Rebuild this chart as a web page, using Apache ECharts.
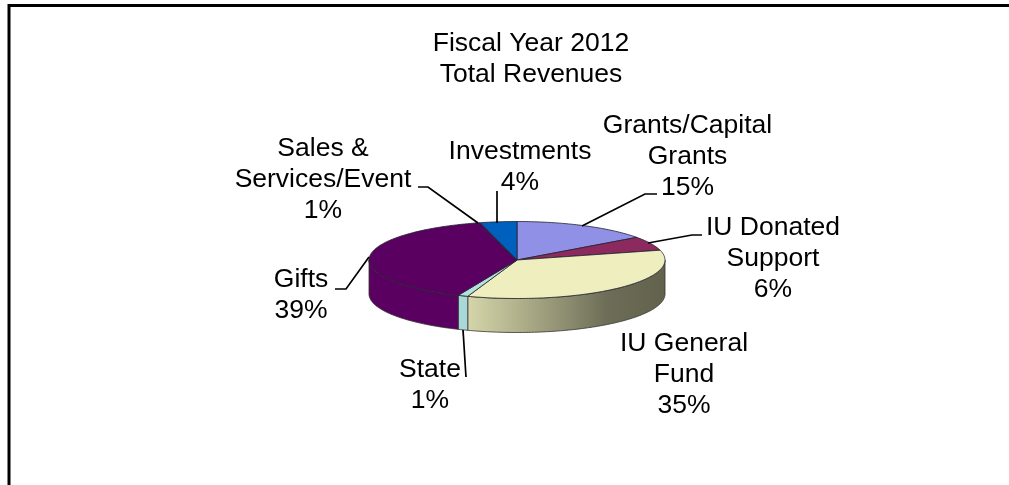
<!DOCTYPE html>
<html><head><meta charset="utf-8">
<style>html,body{margin:0;padding:0;background:#fff}#c{width:1009px;height:485px}</style>
<script src="https://cdn.jsdelivr.net/npm/echarts@6/dist/echarts.min.js"></script>
</head><body><div id="c"></div>
<script>
var categories = ['Grants/Capital Grants','IU Donated Support','IU General Fund','State','Gifts','Sales & Services/Event','Investments'];
var revenueShare = [15, 5.9, 34.5, 1.1, 39, 0.5, 4];
var percentLabels = ['15%','6%','35%','1%','39%','1%','4%'];
var labelLines = [['Grants/Capital','Grants'],['IU Donated','Support'],['IU General','Fund'],['State'],['Gifts'],['Sales &','Services/Event'],['Investments']];
var titleLines = ['Fiscal Year 2012','Total Revenues'];

var topColors = ['#9090E6','#8C2A60','#EEEEBE','#B4E0DE','#5A0060','#5A0060','#0060BE'];
var sideColors = ['#7070B0','#6A2850',null,'#A8D8D8','#5A0060','#5A0060','#004C98'];
var labelCenters = [[687.5,126],[773,228],[684,344],[430,369.5],[301,280],[323,149],[520,152]];
var leaders = [
  [[582,226],[645,194],[657,194]],
  [[648,243],[692,235],[702,235]],
  null,
  [[463,330],[466,377]],
  [[369,257],[346,289],[335,289]],
  [[478,223],[428,187],[418,187]],
  [[497,223],[497,191]]
];
var PIE = {cx:517, cy:260, rx:148, ry:38.5, depth:34};
var FONT = 'Liberation Sans';
var FS = 26.5, LH = 31;

var total = revenueShare.reduce(function(a,b){return a+b;},0);
var cum = 0;
var slices = revenueShare.map(function(v){
  var s = cum/total*Math.PI*2; cum += v; var e = cum/total*Math.PI*2;
  return {start:s,end:e};
});
function pt(a,dy){return [PIE.cx+PIE.rx*Math.sin(a), PIE.cy-PIE.ry*Math.cos(a)+(dy||0)];}
function arc(s,e,dy){var n=Math.max(2,Math.ceil((e-s)/0.02)),r=[];for(var i=0;i<=n;i++){r.push(pt(s+(e-s)*i/n,dy));}return r;}

function renderSide(params){
  var i = params.dataIndex, sl = slices[i];
  var s = Math.max(sl.start, Math.PI/2), e = Math.min(sl.end, Math.PI*1.5);
  if (e <= s) return {type:'group',children:[]};
  var up = arc(s,e,0), lo = arc(s,e,PIE.depth).reverse();
  var fill = sideColors[i];
  if (!fill) fill = new echarts.graphic.LinearGradient(1,0,0,0,[
    {offset:0,color:'#62624C'},{offset:0.3,color:'#6E6E58'},{offset:0.6,color:'#9C9C7C'},{offset:1,color:'#D6D6AA'}]);
  return {type:'polygon',shape:{points:up.concat(lo)},style:{fill:fill,stroke:'#333',lineWidth:0.8}};
}
function renderTop(params){
  var i = params.dataIndex, sl = slices[i];
  var pts = [[PIE.cx,PIE.cy]].concat(arc(sl.start,sl.end,0));
  return {type:'polygon',shape:{points:pts},style:{fill:topColors[i],stroke:'#22222e',lineWidth:0.8}};
}
function textEl(str,x,y){
  return {type:'text',style:{text:str,x:x,y:y,align:'center',verticalAlign:'middle',font:FS+'px "'+FONT+'"',fill:'#000'}};
}
function renderLabel(params){
  var i = params.dataIndex, c = labelCenters[i], kids = [];
  labelLines[i].concat([percentLabels[i]]).forEach(function(t,k){kids.push(textEl(t,c[0],c[1]+k*LH));});
  if (leaders[i]) kids.push({type:'polyline',shape:{points:leaders[i]},style:{fill:'none',stroke:'#000',lineWidth:1.7}});
  return {type:'group',children:kids};
}
function renderText(params){
  return textEl(titleLines[params.dataIndex],531,44+params.dataIndex*31);
}
var rows = revenueShare.map(function(v,i){return [v,categories[i]];});
var chart = echarts.init(document.getElementById('c'),null,{renderer:'canvas'});
chart.setOption({
  animation:false,
  backgroundColor:'#fff',
  graphic:[{type:'polyline',shape:{points:[[9,485],[9,5.5],[1009,5.5]]},style:{fill:'none',stroke:'#000',lineWidth:3},silent:true}],
  series:[
    {type:'custom',coordinateSystem:'none',data:rows,renderItem:renderSide,z:2,silent:true},
    {type:'custom',coordinateSystem:'none',data:rows,renderItem:renderTop,z:3,silent:true},
    {type:'custom',coordinateSystem:'none',data:rows,renderItem:renderLabel,z:4,silent:true},
    {type:'custom',coordinateSystem:'none',data:titleLines.map(function(t){return [t];}),renderItem:renderText,z:5,silent:true}
  ]
});
</script></body></html>
